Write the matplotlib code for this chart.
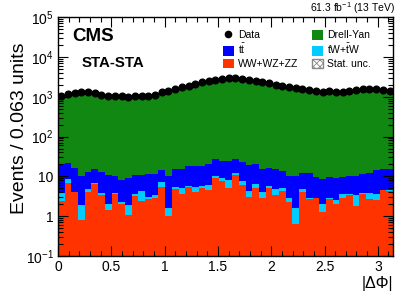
import numpy as np
import matplotlib
matplotlib.use("Agg")
import matplotlib.pyplot as plt
from matplotlib.patches import Patch
from matplotlib.lines import Line2D
from matplotlib.ticker import LogLocator, MultipleLocator, FixedLocator, NullFormatter

plt.rcParams['font.family'] = ['Liberation Sans', 'DejaVu Sans']
plt.rcParams['mathtext.fontset'] = 'custom'
plt.rcParams['mathtext.rm'] = 'Liberation Sans'
plt.rcParams['mathtext.it'] = 'Liberation Sans:italic'
plt.rcParams['hatch.color'] = '#777777'
plt.rcParams['hatch.linewidth'] = 0.6

n_bins = 50
x_max = np.pi

data = [1017, 1169, 1237, 1283, 1283, 1237, 1122, 1059, 1017, 1017,
        980, 1017, 1059, 1059, 1122, 1283, 1413, 1560, 1750, 1884,
        2113, 2330, 2512, 2661, 2800, 2950, 2980, 2850, 2650, 2512,
        2371, 2200, 2030, 1916, 1778, 1679, 1585, 1437, 1388, 1334,
        1360, 1311, 1311, 1413, 1496, 1585, 1585, 1585, 1520, 1413]

dy = [975, 1130, 1200, 1250, 1250, 1200, 1090, 1020, 975, 975,
      950, 985, 1030, 1030, 1095, 1250, 1380, 1525, 1710, 1850,
      2070, 2290, 2470, 2620, 2760, 2910, 2940, 2810, 2610, 2470,
      2330, 2160, 1990, 1880, 1740, 1640, 1550, 1400, 1360, 1300,
      1330, 1280, 1280, 1380, 1460, 1550, 1550, 1550, 1485, 1380]

ttbar = [16.1, 13.6, 11.7, 8.1, 8.4, 8.4, 9.2, 8.6, 6.6, 6.0,
         7.0, 6.9, 6.7, 8.2, 8.3, 7.0, 8.6, 9.6, 10.6, 12.2,
         12.8, 12.9, 14.0, 16.8, 14.7, 17.1, 15.6, 15.4, 14.9, 14.4,
         11.1, 10.2, 10.3, 8.4, 7.4, 8.75, 7.5, 9.5, 6.7, 6.6,
         6.7, 6.7, 6.1, 6.4, 7.05, 7.8, 8.2, 11.0, 10.6, 10.6]

tw = [1.5, 1.7, 0.1, 1.1, 0.65, 0.2, 0.5, 0.56, 0.19, 0.2,
      0.82, 0.5, 1.9, 0.27, 0.47, 1.6, 0.56, 0.6, 1.43, 0.1,
      1.25, 0.6, 1.36, 1.3, 1.7, 2.7, 1.6, 1.5, 1.26, 1.3,
      1.17, 0.6, 1.3, 0.9, 0.47, 1.02, 0.85, 0.27, 0.13, 0.69,
      0.27, 0.6, 0.77, 0.17, 1.54, 0.33, 1.13, 1.2, 0.1, 0.3]

vv = [2.4, 6.7, 4.0, 0.81, 4.05, 6.6, 3.4, 1.44, 3.57, 2.08,
      1.06, 3.2, 2.4, 2.77, 2.93, 5.5, 1.02, 4.8, 3.57, 5.5,
      4.05, 5.0, 4.6, 8.9, 7.6, 5.2, 10.8, 6.1, 3.04, 5.0,
      2.93, 5.0, 3.4, 4.3, 2.33, 0.63, 4.05, 2.66, 2.8, 1.31,
      2.66, 2.0, 2.93, 3.4, 1.81, 3.57, 2.77, 2.5, 4.5, 4.3]

x_ticks = [0, 0.5, 1, 1.5, 2, 2.5, 3]
x_tick_labels = ['0', '0.5', '1', '1.5', '2', '2.5', '3']
y_ticks = [0.1, 1, 10, 100, 1000, 10000, 100000]
y_tick_labels = [r'10$^{-1}$', '1', '10', r'10$^{2}$', r'10$^{3}$', r'10$^{4}$', r'10$^{5}$']

c_dy = '#118811'
c_tt = '#0000ff'
c_tw = '#00ccff'
c_vv = '#ff3300'

edges = np.linspace(0, x_max, n_bins + 1)
centers = 0.5 * (edges[1:] + edges[:-1])

vv_a = np.array(vv)
tw_a = np.array(tw)
tt_a = np.array(ttbar)
dy_a = np.array(dy)

b0 = np.full(n_bins, 1e-3)
b1 = vv_a
b2 = b1 + tw_a
b3 = b2 + tt_a
b4 = b3 + dy_a

fig = plt.figure(figsize=(4.11, 2.95), dpi=100)
ax = fig.add_axes([0.141, 0.132, 0.815, 0.810])

ax.stairs(b1, edges, baseline=b0, fill=True, color=c_vv, lw=0)
ax.stairs(b2, edges, baseline=b1, fill=True, color=c_tw, lw=0)
ax.stairs(b3, edges, baseline=b2, fill=True, color=c_tt, lw=0)
ax.stairs(b4, edges, baseline=b3, fill=True, color=c_dy, lw=0)

# stat. unc. band around total
unc = np.sqrt(b4) * 0.6
ax.stairs(b4 + unc, edges, baseline=b4 - unc, fill=True, facecolor='none',
          edgecolor='#888888', hatch='xxxxx', lw=0)

data_a = np.array(data)
ax.errorbar(centers, data_a, yerr=np.sqrt(data_a), fmt='o', color='black',
            ms=4.8, elinewidth=0.8, capsize=0, zorder=5)

ax.set_yscale('log')
ax.set_xlim(0, x_max)
ax.set_ylim(0.1, 1e5)

ax.xaxis.set_major_locator(FixedLocator(x_ticks))
ax.set_xticklabels(x_tick_labels)
ax.xaxis.set_minor_locator(MultipleLocator(0.1))
ax.yaxis.set_major_locator(FixedLocator(y_ticks))
ax.set_yticklabels(y_tick_labels)
ax.yaxis.set_minor_locator(LogLocator(base=10, subs=np.arange(2, 10)))
ax.yaxis.set_minor_formatter(NullFormatter())

ax.tick_params(which='both', direction='in', top=True, right=True, labelsize=10, width=0.8)
ax.tick_params(which='major', length=7)
ax.tick_params(which='minor', length=3.5)
ax.tick_params(axis='x', pad=3)
ax.tick_params(axis='y', pad=3)
for s in ax.spines.values():
    s.set_linewidth(1.0)

ax.set_ylabel('Events / 0.063 units', fontsize=14)
ax.yaxis.set_label_coords(-0.09, 0.535)
ax.set_xlabel('|ΔΦ|', fontsize=11.5, loc='right', labelpad=1)

fig.text(0.961, 0.972, r'61.3 fb$^{-1}$ (13 TeV)', ha='right', va='center', fontsize=7.5)
ax.text(0.042, 0.918, 'CMS', transform=ax.transAxes, fontsize=13.5, fontweight='bold', va='center')
ax.text(0.07, 0.81, 'STA-STA', transform=ax.transAxes, fontsize=10.8, fontweight='bold', va='center')

handles = [
    Line2D([], [], marker='o', color='black', ms=4.5, lw=0.8, ls='none'),
    Patch(facecolor=c_tt, edgecolor='none'),
    Patch(facecolor=c_vv, edgecolor='none'),
    Patch(facecolor=c_dy, edgecolor='none'),
    Patch(facecolor=c_tw, edgecolor='none'),
    Patch(facecolor='white', edgecolor='#888888', hatch='xxxxx'),
]
labels = ['Data', r't$\bar{\mathrm{t}}$', 'WW+WZ+ZZ', 'Drell-Yan', r'tW+$\bar{\mathrm{t}}$W', 'Stat. unc.']
leg = ax.legend(handles, labels, ncol=2, loc='upper left', bbox_to_anchor=(0.47, 0.977),
                frameon=False, fontsize=7.5, handlelength=1.1, handleheight=1.05,
                columnspacing=1.25, labelspacing=0.2, handletextpad=0.4, borderpad=0.2)

fig.savefig('out.png', dpi=100)
